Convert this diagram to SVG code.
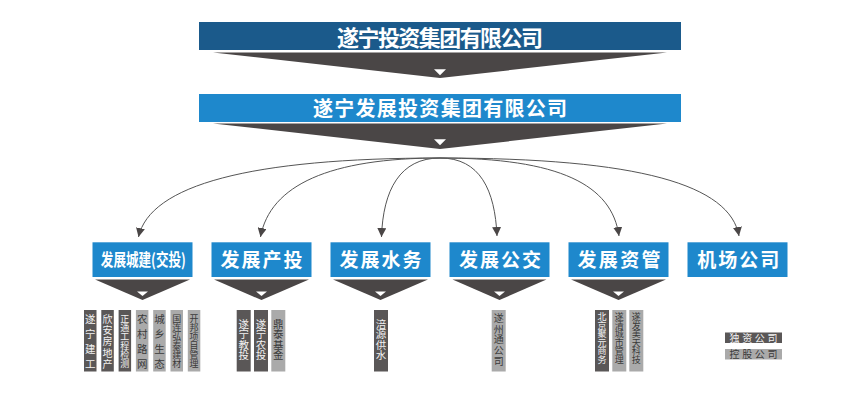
<svg xmlns="http://www.w3.org/2000/svg" width="868" height="408" viewBox="0 0 868 408">
<defs>
<marker id="ah" viewBox="0 0 10 10" refX="10" refY="5" markerUnits="userSpaceOnUse" markerWidth="9" markerHeight="9" orient="auto">
<path d="M0,0 L10,5 L0,10 z" fill="#4a4646"/>
</marker>
<style>
.t{font-family:"Noto Sans CJK SC","Noto Sans",sans-serif;}
.ban{font-size:22px;font-weight:bold;fill:#fff;text-anchor:middle;}
.box{fill:#1e88cc;}
.bt{font-size:19px;font-weight:bold;fill:#fff;text-anchor:middle;}
.tri{fill:#4a4646;}
.wt{fill:#fff;}
.dk{fill:#5a5757;}
.lt{fill:#aaaaaa;}
.dkt{fill:#f2f2f2;text-anchor:middle;}
.ltt{fill:#3a3a3a;text-anchor:middle;}
.arc{fill:none;stroke:#555;stroke-width:1;marker-end:url(#ah);}
</style>
</defs>
<rect width="868" height="408" fill="#fff"/>

<g id="group-parent">
<rect x="199" y="22" width="482" height="28" fill="#1b5a8b"/>
<text class="t ban" x="440" y="46.4" textLength="206" lengthAdjust="spacing">遂宁投资集团有限公司</text>
<path class="tri" d="M213,52.5 L667,52.5 L440,78 z"/>
<path class="wt" d="M434,69.3 L446,69.3 L440,75.3 z"/>
</g>

<g id="group-main">
<rect x="199" y="94" width="482" height="28" fill="#1e88cc"/>
<text class="t ban" style="font-size:20px" x="440" y="116" textLength="254" lengthAdjust="spacing">遂宁发展投资集团有限公司</text>
<path class="tri" d="M213,123.5 L667,123.5 L440,149 z"/>
<path class="wt" d="M434,139.3 L446,139.3 L440,145.3 z"/>
</g>

<g id="connectors">
<path class="arc" d="M440,158 C250,158 150,185 138.5,237"/>
<path class="arc" d="M440,158 C330,158 270,185 260.5,237"/>
<path class="arc" d="M440,158 C400,158 383,190 381.5,237"/>
<path class="arc" d="M440,158 C480,158 495,190 497,236"/>
<path class="arc" d="M440,158 C560,158 612,185 619,236"/>
<path class="arc" d="M440,158 C640,158 730,185 739,236"/>
</g>

<g id="node-chengjian">
<rect class="box" x="92.5" y="242.3" width="100" height="34.7"/>
<text class="t bt" style="font-size:17px" x="143.3" y="266" textLength="85" lengthAdjust="spacingAndGlyphs">发展城建(交投)</text>
<path class="tri" d="M95,279.5 L190,279.5 L142.5,300 z"/>
<path class="wt" d="M137,291.5 L148,291.5 L142.5,296 z"/>
</g>

<g id="node-chantou">
<rect class="box" x="211.5" y="242.3" width="100" height="34.7"/>
<text class="t bt" x="261.5" y="266.7" textLength="82" lengthAdjust="spacing">发展产投</text>
<path class="tri" d="M214,279.5 L309,279.5 L261.5,300 z"/>
<path class="wt" d="M256,291.5 L267,291.5 L261.5,296 z"/>
</g>

<g id="node-shuiwu">
<rect class="box" x="330.5" y="242.3" width="100" height="34.7"/>
<text class="t bt" x="380.5" y="266.7" textLength="82" lengthAdjust="spacing">发展水务</text>
<path class="tri" d="M333,279.5 L428,279.5 L380.5,300 z"/>
<path class="wt" d="M375,291.5 L386,291.5 L380.5,296 z"/>
</g>

<g id="node-gongjiao">
<rect class="box" x="449.5" y="242.3" width="100" height="34.7"/>
<text class="t bt" x="500" y="266.7" textLength="82" lengthAdjust="spacing">发展公交</text>
<path class="tri" d="M452.5,279.5 L546.5,279.5 L499.5,300 z"/>
<path class="wt" d="M494,291.5 L505,291.5 L499.5,296 z"/>
</g>

<g id="node-ziguan">
<rect class="box" x="568.5" y="242.3" width="100" height="34.7"/>
<text class="t bt" x="619" y="266.7" textLength="83" lengthAdjust="spacing">发展资管</text>
<path class="tri" d="M571,279.5 L666,279.5 L618.5,300 z"/>
<path class="wt" d="M613,291.5 L624,291.5 L618.5,296 z"/>
</g>

<g id="node-jichang">
<rect class="box" x="687.5" y="242.3" width="100" height="34.7"/>
<text class="t bt" x="738.3" y="266.7" textLength="82" lengthAdjust="spacing">机场公司</text>
</g>

<g id="subs-chengjian">
<rect class="dk" x="84" y="310" width="12.5" height="61.5"/>
<text class="t dkt" font-size="10.5" x="90.25 90.25 90.25 90.25" y="323 338 353 368">遂宁建工</text>
<rect class="dk" x="101.3" y="310" width="12.5" height="61.5"/>
<text class="t dkt" font-size="10" x="107.55 107.55 107.55 107.55 107.55" y="322.8 334 345.3 356.5 367.8">欣安房地产</text>
<rect class="dk" x="118.6" y="310" width="12.5" height="61.5"/>
<text class="t dkt" font-size="9" x="124.85 124.85 124.85 124.85 124.85 124.85" y="322.4 331.4 340.4 349.4 358.4 367.4">正通工程检测</text>
<rect class="lt" x="135.9" y="310" width="12.5" height="61.5"/>
<text class="t ltt" font-size="10.5" x="142.15 142.15 142.15 142.15" y="323 338 353 368">农村路网</text>
<rect class="lt" x="153.2" y="310" width="12.5" height="61.5"/>
<text class="t ltt" font-size="10.5" x="159.45 159.45 159.45 159.45" y="323 338 353 368">城乡生态</text>
<rect class="lt" x="170.5" y="310" width="12.5" height="61.5"/>
<text class="t ltt" font-size="9" x="176.75 176.75 176.75 176.75 176.75 176.75" y="322.4 331.4 340.4 349.4 358.4 367.4">国连弘泰建材</text>
<rect class="lt" x="187.8" y="310" width="12.5" height="61.5"/>
<text class="t ltt" font-size="9" x="194.05 194.05 194.05 194.05 194.05 194.05" y="322.4 331.4 340.4 349.4 358.4 367.4">开邦项目管理</text>
</g>

<g id="subs-chantou">
<rect class="dk" x="236.7" y="310" width="14" height="61.5"/>
<text class="t dkt" font-size="10.5" x="243.7 243.7 243.7 243.7" y="327.7 338.2 348.8 359.3">遂宁教投</text>
<rect class="dk" x="254" y="310" width="14" height="61.5"/>
<text class="t dkt" font-size="10.5" x="261 261 261 261" y="327.7 338.2 348.8 359.3">遂宁农投</text>
<rect class="lt" x="271.3" y="310" width="14" height="61.5"/>
<text class="t ltt" font-size="10.5" x="278.3 278.3 278.3 278.3" y="327.7 338.2 348.8 359.3">鼎泰基金</text>
</g>

<g id="subs-shuiwu">
<rect class="dk" x="374" y="310" width="14" height="61.5"/>
<text class="t dkt" font-size="10.5" x="381 381 381 381" y="327.7 338.2 348.8 359.3">涪源供水</text>
</g>

<g id="subs-gongjiao">
<rect class="lt" x="491.7" y="310" width="14" height="61.5"/>
<text class="t ltt" font-size="10" x="498.7 498.7 498.7 498.7 498.7" y="321.8 332.6 343.3 354.1 364.8">遂州通公司</text>
</g>

<g id="subs-ziguan">
<rect class="dk" x="595" y="310" width="14" height="61.5"/>
<text class="t dkt" font-size="9" x="602 602 602 602 602 602" y="320.4 328.9 337.4 345.9 354.4 362.9">北京聚元商务</text>
<rect class="lt" x="612.3" y="310" width="14" height="61.5"/>
<text class="t ltt" font-size="9" x="619.3 619.3 619.3 619.3 619.3 619.3" y="320.4 328.9 337.4 345.9 354.4 362.9">遂清城市管理</text>
<rect class="lt" x="629.3" y="310" width="14" height="61.5"/>
<text class="t ltt" font-size="9" x="636.3 636.3 636.3 636.3 636.3 636.3" y="320.4 328.9 337.4 345.9 354.4 362.9">遂发美天科技</text>
</g>

<g id="legend">
<rect class="dk" x="725" y="332.5" width="57" height="10.5"/>
<text class="t" font-size="10" fill="#f2f2f2" x="729.5" y="341.6" textLength="48" lengthAdjust="spacing">独资公司</text>
<rect class="lt" x="725" y="349" width="57" height="10.5"/>
<text class="t" font-size="10" fill="#3a3a3a" x="729.5" y="358.1" textLength="48" lengthAdjust="spacing">控股公司</text>
</g>
</svg>
